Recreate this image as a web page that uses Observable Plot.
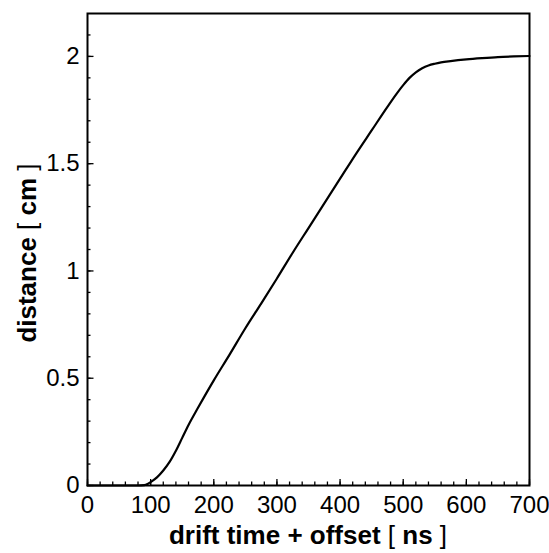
<!DOCTYPE html>
<html>
<head>
<meta charset="utf-8">
<script src="https://cdn.jsdelivr.net/npm/d3@7"></script>
<script src="https://cdn.jsdelivr.net/npm/@observablehq/plot@0.6"></script>
<style>
  body { margin: 0; background: #fff; }
  svg { font-family: "Liberation Sans", Arial, sans-serif; }
</style>
</head>
<body>
<div id="chart"></div>
<script>
const driftTime = [0, 20, 40, 60, 80, 90, 95, 100, 110, 120, 130, 140, 150, 160, 175, 200, 225, 250, 275, 300, 325, 350, 375, 400, 425, 450, 475, 490, 500, 510, 520, 530, 540, 550, 560, 575, 600, 625, 650, 675, 700];
const distance  = [0, 0, 0, 0, 0, 0.002, 0.007, 0.016, 0.038, 0.07, 0.11, 0.162, 0.222, 0.282, 0.362, 0.49, 0.61, 0.733, 0.848, 0.965, 1.085, 1.2, 1.315, 1.43, 1.545, 1.655, 1.765, 1.828, 1.866, 1.9, 1.926, 1.945, 1.958, 1.966, 1.972, 1.978, 1.986, 1.992, 1.997, 2.0, 2.002];
const xMajorTicks = [0, 100, 200, 300, 400, 500, 600, 700];
const xMinorTicks = d3.range(0, 701, 20);
const yMajorTicks = [0, 0.5, 1, 1.5, 2];
const yTickLabels = ["0", "0.5", "1", "1.5", "2"];
const yMinorTicks = d3.range(0, 22).map(i => i / 10);
const xTitle = ["drift time + offset", "[", "ns", "]"];
const yTitle = ["distance", "[", "cm", "]"];

const data = driftTime.map((t, i) => ({t, d: distance[i]}));

const plot = Plot.plot({
  width: 549,
  height: 553,
  marginLeft: 87,
  marginRight: 20,
  marginTop: 13,
  marginBottom: 68,
  style: {fontFamily: "Liberation Sans, Arial, sans-serif", fontSize: "24px", background: "#fff", color: "#000"},
  x: {domain: [0, 700], label: null},
  y: {domain: [0, 2.2], label: null},
  marks: [
    Plot.axisX({ticks: xMinorTicks, tickSize: -3.5, tickFormat: () => "", label: null, strokeWidth: 1.3}),
    Plot.axisX({ticks: xMajorTicks, tickSize: -6, tickFormat: () => "", label: null, strokeWidth: 1.3}),
    Plot.axisX({ticks: xMajorTicks, tickSize: 0, tickPadding: 10, label: null, fontSize: 24, tickFormat: d => String(d)}),
    Plot.axisY({ticks: yMinorTicks, tickSize: -3.5, tickFormat: () => "", label: null, strokeWidth: 1.3}),
    Plot.axisY({ticks: yMajorTicks, tickSize: -6.5, tickFormat: () => "", label: null, strokeWidth: 1.3}),
    Plot.axisY({ticks: yMajorTicks, tickSize: 0, tickPadding: 8, label: null, fontSize: 24, tickFormat: (d, i) => yTickLabels[i]}),
    Plot.frame({stroke: "#000", strokeWidth: 2}),
    Plot.line(data, {x: "t", y: "d", stroke: "#000", strokeWidth: 2.2, curve: "monotone-x"})
  ]
});

const svg = d3.select(plot);
function addTitle(sel, parts) {
  sel.append("tspan").attr("font-weight", "bold").text(parts[0] + " ");
  sel.append("tspan").attr("font-weight", "normal").text(parts[1] + " ");
  sel.append("tspan").attr("font-weight", "bold").text(parts[2] + " ");
  sel.append("tspan").attr("font-weight", "normal").text(parts[3]);
}
const xt = svg.append("text")
  .attr("x", (87 + 529) / 2).attr("y", 544)
  .attr("text-anchor", "middle").attr("font-size", 26).attr("fill", "#000");
addTitle(xt, xTitle);
const yt = svg.append("text")
  .attr("transform", `translate(36, ${(13 + 485) / 2 + 4}) rotate(-90)`)
  .attr("text-anchor", "middle").attr("font-size", 26).attr("fill", "#000");
addTitle(yt, yTitle);

document.getElementById("chart").appendChild(plot);
</script>
</body>
</html>
